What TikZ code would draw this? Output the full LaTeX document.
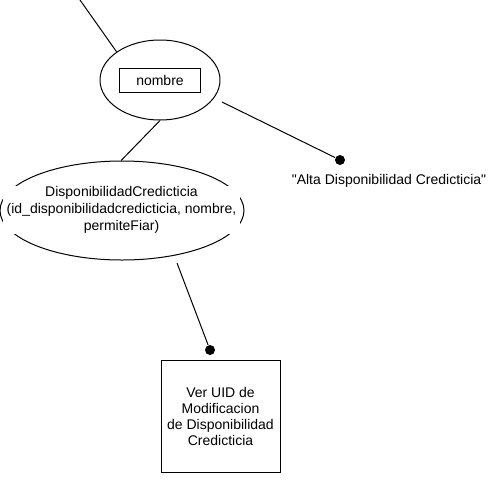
\documentclass[tikz,border=0pt]{standalone}
\usepackage{fontspec}
\setmainfont[Ligatures=TeXOff]{Liberation Sans}
\usepackage{tikz}
\usetikzlibrary{shapes.geometric}

\begin{document}
\begin{tikzpicture}[x=1pt, y=-1pt, line width=1pt]

	\tikzstyle{attr_node}=[ellipse, draw=black, inner sep=0pt]
	\tikzstyle{key_node}=[rectangle, draw=black, inner sep=0pt, minimum width=81pt, minimum height=24pt, font=\fontsize{14}{16}\selectfont]
	\tikzstyle{entity_label}=[rectangle, fill=white, inner sep=0pt, align=center, minimum width=237pt, minimum height=48pt, font=\fontsize{14}{17}\selectfont]
	\tikzstyle{value_dot}=[circle, fill=black, inner sep=0pt, minimum size=10pt]
	\tikzstyle{value_text}=[font=\fontsize{14}{16}\selectfont]
	\tikzstyle{action_node}=[rectangle, draw=black, align=center, minimum width=119pt, minimum height=112pt, font=\fontsize{14}{16}\selectfont]

	\useasboundingbox (0,0) rectangle (502,482);

	%Main nodes
	\node[attr_node, minimum width=120pt, minimum height=80pt] at (160,80) (nombre_attr) {};
	\node[key_node] at (160,80) (nombre_key) {nombre};

	\node[attr_node, minimum width=244pt, minimum height=99pt] at (122,210.5) (disp_entity) {};
	\node[entity_label] at (121.5,210) (disp_label) {DisponibilidadCredicticia\\(id\_disponibilidadcredicticia, nombre,\\permiteFiar)};

	\node[value_dot] at (340,160) (alta_dot) {};
	\node[value_text] at (389,181) (alta_value) {"Alta Disponibilidad Credicticia"};

	\node[value_dot] at (210,350) (ver_dot) {};
	\node[action_node] at (220.5,416) (ver_uid) {Ver UID de\\Modificacion\\de Disponibilidad\\Credicticia};

	\coordinate (top_end) at (80,0);
	\coordinate (alta_start) at (222,102);
	\coordinate (ver_start) at (177,263);

	% Connections
	\draw (top_end) -- (nombre_attr.147);
	\draw (nombre_attr.south) -- (disp_entity.91);
	\draw (alta_start) -- (alta_dot);
	\draw (ver_start) -- (ver_dot);

\end{tikzpicture}
\end{document}
